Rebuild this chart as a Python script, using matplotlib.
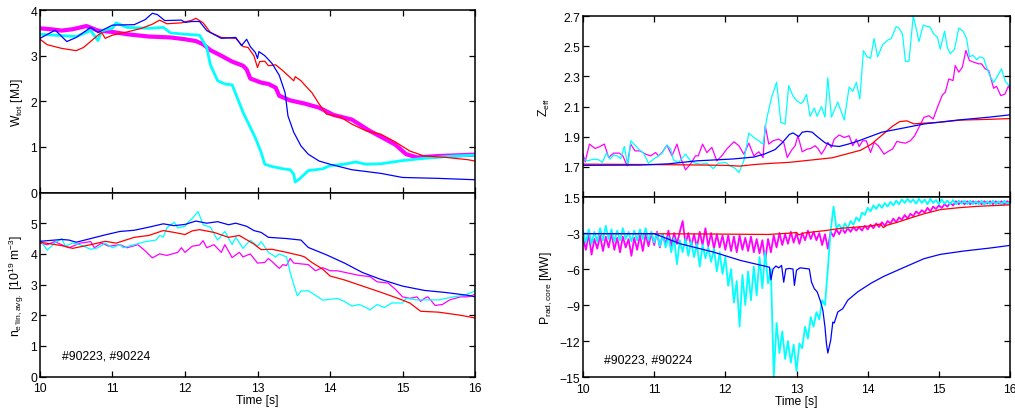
import numpy as np
import matplotlib
matplotlib.use("Agg")
import matplotlib.pyplot as plt

plt.rcParams['font.family'] = ['Liberation Sans', 'DejaVu Sans']
plt.rcParams['mathtext.fontset'] = 'custom'
plt.rcParams['mathtext.rm'] = 'Liberation Sans'
plt.rcParams['mathtext.it'] = 'Liberation Sans:italic'
plt.rcParams['mathtext.default'] = 'regular'

BLUE, RED, MAG, CYAN = '#0000ff', '#ff0000', '#ff00ff', '#00ffff'

# ---- W_tot [MJ] ----
wtot_blue_t = [10.0, 10.21, 10.37, 10.5, 10.7, 10.8, 11.0, 11.3, 11.45, 11.55, 11.62, 11.72, 11.95, 12.0,
               12.1, 12.2, 12.3, 12.5, 12.7, 12.78, 12.85, 12.9, 12.97, 13.0, 13.02, 13.1, 13.2, 13.3,
               13.38, 13.42, 13.5, 13.6, 13.7, 13.85, 14.0, 14.3, 14.7, 15.0, 15.5, 16.0]
wtot_blue = [3.38, 3.56, 3.31, 3.4, 3.62, 3.51, 3.67, 3.68, 3.79, 3.93, 3.9, 3.77, 3.78, 3.73,
             3.75, 3.75, 3.55, 3.38, 3.4, 3.22, 3.36, 3.2, 3.07, 2.94, 3.09, 3.0, 2.83, 2.57,
             2.19, 1.68, 1.32, 1.02, 0.84, 0.69, 0.62, 0.5, 0.42, 0.33, 0.31, 0.28]
wtot_red_t = [10.0, 10.1, 10.3, 10.5, 10.6, 10.8, 10.85, 10.9, 11.0, 11.2, 11.4, 11.55, 11.65, 11.75, 11.95,
              12.1, 12.15, 12.25, 12.35, 12.5, 12.7, 12.8, 12.87, 12.95, 13.0, 13.03, 13.1, 13.15, 13.25,
              13.35, 13.5, 13.52, 13.6, 13.65, 13.75, 13.85, 13.95, 14.15, 14.3, 14.5, 14.7, 14.9, 15.1,
              15.3, 15.6, 15.9, 16.0]
wtot_red = [3.36, 3.24, 3.16, 3.11, 3.18, 3.45, 3.51, 3.38, 3.45, 3.52, 3.6, 3.69, 3.78, 3.7, 3.72,
            3.78, 3.82, 3.72, 3.51, 3.4, 3.38, 3.2, 3.18, 3.0, 2.74, 2.87, 2.88, 2.78, 2.8,
            2.67, 2.45, 2.54, 2.45, 2.36, 2.19, 1.94, 1.72, 1.65, 1.5, 1.35, 1.28, 1.11, 0.91,
            0.8, 0.77, 0.72, 0.69]
wtot_mag_t = [10.0, 10.15, 10.3, 10.45, 10.64, 10.8, 11.0, 11.2, 11.5, 11.8, 12.0, 12.15, 12.25, 12.35,
              12.5, 12.65, 12.8, 12.85, 12.9, 13.05, 13.15, 13.25, 13.3, 13.45, 13.65, 13.85, 14.05,
              14.3, 14.45, 14.55, 14.75, 14.9, 15.05, 15.2, 15.5, 16.0]
wtot_mag = [3.6, 3.58, 3.55, 3.58, 3.65, 3.55, 3.52, 3.47, 3.42, 3.4, 3.36, 3.32, 3.25, 3.12,
            3.0, 2.87, 2.78, 2.7, 2.5, 2.41, 2.38, 2.3, 2.12, 2.02, 1.95, 1.86, 1.7,
            1.6, 1.45, 1.35, 1.18, 1.05, 0.84, 0.77, 0.8, 0.83]
wtot_cyan_t = [10.0, 10.2, 10.5, 10.7, 10.8, 10.85, 11.0, 11.05, 11.2, 11.5, 11.7, 11.8, 12.0, 12.2,
               12.3, 12.35, 12.45, 12.55, 12.65, 12.7, 12.8, 12.9, 12.97, 13.05, 13.1, 13.2, 13.35,
               13.45, 13.5, 13.52, 13.58, 13.7, 13.9, 14.0, 14.2, 14.35, 14.5, 14.7, 15.0, 15.3, 15.7, 16.0]
wtot_cyan = [3.47, 3.45, 3.42, 3.55, 3.33, 3.55, 3.6, 3.72, 3.62, 3.6, 3.62, 3.5, 3.47, 3.45,
             3.18, 2.8, 2.45, 2.38, 2.36, 2.16, 1.76, 1.43, 1.2, 0.88, 0.62, 0.57, 0.52,
             0.5, 0.4, 0.23, 0.3, 0.48, 0.52, 0.59, 0.62, 0.67, 0.62, 0.63, 0.7, 0.75, 0.8, 0.82]

# ---- n_e lin,avg [1e19 m^-3] ----
ne_blue_t = [10.0, 10.3, 10.4, 10.5, 10.7, 10.9, 11.1, 11.3, 11.5, 11.7, 11.85, 12.0, 12.15, 12.3, 12.45,
             12.6, 12.7, 12.85, 12.95, 13.05, 13.15, 13.4, 13.6, 13.7, 13.95, 14.2, 14.45, 14.7, 15.0,
             15.3, 15.6, 15.9, 16.0]
ne_blue = [4.41, 4.47, 4.45, 4.38, 4.5, 4.62, 4.73, 4.77, 4.87, 4.98, 4.92, 4.96, 5.07, 5.0, 5.05,
           4.95, 5.0, 4.9, 4.76, 4.7, 4.54, 4.5, 4.45, 4.21, 3.97, 3.7, 3.39, 3.17, 2.95,
           2.81, 2.74, 2.65, 2.6]
ne_red_t = [10.0, 10.3, 10.45, 10.7, 10.9, 11.05, 11.3, 11.5, 11.7, 11.85, 12.0, 12.1, 12.2, 12.4, 12.6,
            12.75, 12.95, 13.05, 13.2, 13.4, 13.6, 13.65, 13.75, 13.9, 14.0, 14.2, 14.45, 14.7, 14.95,
            15.1, 15.25, 15.5, 15.8, 16.0]
ne_red = [4.38, 4.27, 4.18, 4.3, 4.41, 4.35, 4.54, 4.6, 4.76, 4.7, 4.63, 4.75, 4.79, 4.7, 4.54,
          4.6, 4.32, 4.14, 4.15, 4.05, 3.94, 3.9, 3.72, 3.5, 3.28, 3.15, 2.95, 2.75, 2.54,
          2.4, 2.13, 2.1, 2.0, 1.91]
ne_mag_t = [10.0, 10.1, 10.2, 10.4, 10.55, 10.7, 10.75, 10.85, 10.95, 11.1, 11.2, 11.35, 11.45, 11.55,
            11.65, 11.75, 11.9, 11.95, 12.0, 12.1, 12.2, 12.25, 12.3, 12.4, 12.5, 12.55, 12.65, 12.75,
            12.8, 12.9, 12.95, 13.0, 13.1, 13.15, 13.2, 13.3, 13.35, 13.4, 13.45, 13.5, 13.7, 13.8,
            13.9, 14.0, 14.1, 14.3, 14.4, 14.55, 14.65, 14.8, 14.9, 15.0, 15.1, 15.2, 15.25, 15.3,
            15.35, 15.45, 15.55, 15.65, 15.8, 15.9, 16.0]
ne_mag = [4.35, 4.3, 4.4, 4.2, 4.35, 4.4, 4.2, 4.35, 4.25, 4.3, 4.2, 4.3, 4.1, 3.87,
          4.0, 3.95, 4.05, 4.2, 4.05, 4.25, 4.29, 4.43, 4.2, 4.3, 4.05, 4.3, 3.88, 4.05,
          3.9, 4.0, 3.85, 3.7, 3.72, 3.85, 3.75, 3.53, 3.65, 3.62, 3.85, 3.7, 3.65, 3.45,
          3.55, 3.45, 3.45, 3.35, 3.3, 3.26, 3.09, 3.05, 2.85, 2.6, 2.55, 2.6, 2.45, 2.55,
          2.6, 2.32, 2.35, 2.5, 2.6, 2.6, 2.68]
ne_cyan_t = [10.0, 10.1, 10.2, 10.3, 10.35, 10.45, 10.55, 10.7, 10.8, 10.9, 11.0, 11.1, 11.15, 11.3,
             11.45, 11.6, 11.65, 11.7, 11.75, 11.85, 11.9, 12.0, 12.05, 12.1, 12.18, 12.25, 12.35,
             12.45, 12.55, 12.65, 12.7, 12.8, 12.9, 13.0, 13.05, 13.15, 13.25, 13.3, 13.4, 13.45,
             13.5, 13.55, 13.6, 13.7, 13.8, 13.9, 14.1, 14.2, 14.3, 14.4, 14.5, 14.55, 14.65, 14.75,
             14.85, 15.0, 15.05, 15.2, 15.5, 15.7, 15.85, 16.0]
ne_cyan = [4.46, 4.12, 4.35, 4.5, 4.25, 4.35, 4.3, 4.15, 4.2, 4.35, 4.2, 4.3, 4.2, 4.3,
           4.4, 4.45, 4.6, 4.55, 4.85, 5.03, 4.85, 4.9, 5.05, 5.15, 5.38, 4.95, 4.87,
           4.45, 4.73, 4.3, 4.55, 4.18, 4.45, 4.25, 4.4, 4.05, 3.9, 4.0, 3.9, 3.4,
           3.0, 2.63, 2.79, 2.8, 2.65, 2.49, 2.55, 2.45, 2.3, 2.35, 2.25, 2.17, 2.35, 2.25,
           2.4, 2.4, 2.55, 2.5, 2.5, 2.6, 2.65, 2.79]

# ---- Z_eff ----
zeff_red_t = [10.0, 11.0, 11.5, 12.0, 12.2, 12.4, 12.6, 12.9, 13.2, 13.5, 13.7, 13.9, 14.05, 14.2,
              14.35, 14.45, 14.55, 14.65, 14.8, 15.0, 15.3, 15.7, 16.0]
zeff_red = [1.718, 1.715, 1.713, 1.71, 1.705, 1.715, 1.722, 1.73, 1.745, 1.76, 1.785, 1.81, 1.85, 1.91,
            1.97, 2.0, 2.005, 1.985, 1.99, 1.995, 2.01, 2.015, 2.02]
zeff_blue_t = [10.0, 10.8, 11.2, 11.6, 12.1, 12.4, 12.55, 12.7, 12.8, 12.9, 12.95, 13.0, 13.03, 13.08,
               13.15, 13.22, 13.28, 13.4, 13.5, 13.6, 13.72, 13.86, 14.0, 14.2, 14.42, 14.8, 15.26,
               15.72, 16.0]
zeff_blue = [1.71, 1.712, 1.72, 1.74, 1.752, 1.765, 1.785, 1.815, 1.86, 1.915, 1.925, 1.91, 1.9, 1.93,
             1.935, 1.93, 1.905, 1.86, 1.84, 1.835, 1.85, 1.87, 1.895, 1.93, 1.95, 1.985, 2.01,
             2.03, 2.045]
zeff_mag_t = [10.0, 10.03, 10.09, 10.17, 10.23, 10.3, 10.36, 10.43, 10.51, 10.56, 10.62, 10.67, 10.73,
              10.8, 10.88, 10.95, 11.02, 11.06, 11.11, 11.18, 11.25, 11.32, 11.38, 11.44, 11.51, 11.58,
              11.62, 11.68, 11.74, 11.81, 11.88, 11.95, 12.02, 12.12, 12.19, 12.26, 12.33, 12.4, 12.47,
              12.53, 12.56, 12.61, 12.67, 12.75, 12.82, 12.87, 12.93, 12.98, 13.02, 13.08, 13.15, 13.2,
              13.26, 13.3, 13.35, 13.4, 13.44, 13.49, 13.53, 13.6, 13.67, 13.74, 13.79, 13.84, 13.88,
              13.93, 13.98, 14.04, 14.09, 14.15, 14.23, 14.3, 14.35, 14.41, 14.47, 14.53, 14.6, 14.66,
              14.72, 14.79, 14.86, 14.92, 14.98, 15.05, 15.09, 15.14, 15.2, 15.23, 15.28, 15.33, 15.38,
              15.43, 15.49, 15.56, 15.6, 15.65, 15.7, 15.77, 15.81, 15.87, 15.93, 15.98, 16.0]
zeff_mag = [1.784, 1.733, 1.851, 1.822, 1.833, 1.851, 1.762, 1.791, 1.791, 1.773, 1.707, 1.851, 1.806,
            1.806, 1.784, 1.773, 1.795, 1.773, 1.795, 1.844, 1.773, 1.851, 1.751, 1.68, 1.718, 1.773,
            1.773, 1.851, 1.795, 1.829, 1.74, 1.773, 1.818, 1.866, 1.84, 1.784, 1.857, 1.773, 1.8,
            1.762, 1.973, 1.851, 1.873, 1.884, 1.862, 1.762, 1.81, 1.84, 1.906, 1.8, 1.818, 1.822,
            1.84, 1.822, 1.784, 1.822, 1.862, 1.829, 1.884, 1.911, 1.895, 1.906, 1.84, 1.884, 1.835,
            1.873, 1.873, 1.795, 1.862, 1.84, 1.784, 1.806, 1.818, 1.869, 1.862, 1.857, 1.873, 1.906,
            1.962, 2.028, 2.039, 2.017, 2.095, 2.177, 2.194, 2.283, 2.272, 2.372, 2.328, 2.361, 2.472,
            2.405, 2.394, 2.383, 2.383, 2.35, 2.339, 2.221, 2.234, 2.172, 2.183, 2.239, 2.206]
zeff_cyan_t = [10.0, 10.06, 10.15, 10.22, 10.27, 10.33, 10.38, 10.43, 10.48, 10.53, 10.58, 10.63, 10.67,
               10.73, 10.78, 10.85, 10.92, 10.99, 11.06, 11.11, 11.18, 11.23, 11.27, 11.34, 11.44, 11.51,
               11.58, 11.65, 11.74, 11.83, 11.9, 12.0, 12.07, 12.14, 12.19, 12.26, 12.33, 12.4, 12.47,
               12.53, 12.58, 12.65, 12.72, 12.78, 12.84, 12.89, 12.95, 13.0, 13.06, 13.09, 13.14, 13.19,
               13.25, 13.29, 13.35, 13.4, 13.44, 13.49, 13.58, 13.67, 13.74, 13.79, 13.84, 13.89, 13.94,
               13.99, 14.04, 14.09, 14.14, 14.21, 14.28, 14.33, 14.4, 14.44, 14.49, 14.53, 14.58, 14.64,
               14.69, 14.72, 14.78, 14.84, 14.87, 14.93, 14.98, 15.02, 15.08, 15.12, 15.16, 15.22, 15.28,
               15.34, 15.39, 15.43, 15.48, 15.53, 15.58, 15.63, 15.67, 15.72, 15.77, 15.81, 15.88, 15.93,
               16.0]
zeff_cyan = [1.751, 1.74, 1.751, 1.747, 1.729, 1.791, 1.751, 1.778, 1.773, 1.755, 1.835, 1.707, 1.873,
             1.844, 1.818, 1.791, 1.724, 1.751, 1.773, 1.791, 1.844, 1.818, 1.747, 1.729, 1.784, 1.74,
             1.724, 1.718, 1.724, 1.689, 1.724, 1.729, 1.707, 1.689, 1.662, 1.74, 1.924, 1.895, 1.873,
             1.851, 2.017, 2.161, 2.261, 1.995, 1.984, 2.239, 2.17, 2.14, 2.12, 2.13, 2.18, 2.035,
             2.09, 2.035, 2.1, 2.03, 2.29, 2.03, 2.13, 2.01, 2.23, 2.2, 2.26, 2.15, 2.47,
             2.43, 2.42, 2.55, 2.43, 2.51, 2.54, 2.55, 2.63, 2.62, 2.58, 2.4, 2.4, 2.7,
             2.6, 2.53, 2.64, 2.63, 2.63, 2.58, 2.56, 2.48, 2.6, 2.49, 2.45, 2.48, 2.62,
             2.6, 2.55, 2.43, 2.44, 2.41, 2.43, 2.42, 2.36, 2.3, 2.26, 2.29, 2.35, 2.27,
             2.23]

# ---- P_rad,core [MW] ----
prad_blue_t = [10.0, 11.0, 11.37, 11.83, 12.21, 12.51, 12.62, 12.64, 12.67, 12.71, 12.75, 12.79, 12.82,
               12.85, 12.9, 12.95, 12.97, 13.0, 13.05, 13.12, 13.18, 13.21, 13.25, 13.29, 13.34, 13.37,
               13.4, 13.42, 13.44, 13.48, 13.51, 13.53, 13.58, 13.65, 13.72, 13.86, 14.05, 14.23, 14.47,
               14.79, 15.02, 15.35, 15.72, 16.0]
prad_blue = [-3.05, -3.05, -3.9, -4.58, -5.28, -5.7, -5.85, -6.9, -6.0, -5.75, -5.9, -5.7, -7.1,
             -6.0, -5.95, -6.0, -7.36, -6.1, -5.9, -5.95, -6.0, -7.08, -7.64, -7.9, -8.75, -9.44,
             -10.83, -12.2, -13.0, -11.94, -10.42, -10.5, -9.58, -9.3, -8.6, -7.9, -7.17, -6.6, -5.97,
             -5.14, -4.78, -4.5, -4.25, -4.03]
prad_red_t = [10.0, 11.5, 12.2, 12.6, 12.93, 13.0, 13.03, 13.1, 13.4, 13.63, 13.86, 14.05, 14.18, 14.22,
              14.27, 14.42, 14.6, 14.79, 15.02, 15.26, 15.53, 16.0]
prad_red = [-3.05, -3.07, -3.1, -3.12, -3.0, -2.95, -3.15, -3.0, -2.8, -2.6, -2.5, -2.4, -2.25, -2.55,
            -2.35, -2.1, -1.75, -1.4, -1.05, -0.9, -0.78, -0.65]
# sampled every 40 ms from 10.0 s to 16.0 s
prad_cyan = [-2.8, -3.8, -2.7, -3.9, -2.9, -3.7, -2.6, -3.6, -2.4, -3.5,
             -2.7, -3.7, -2.8, -3.6, -2.6, -3.5, -2.9, -3.7, -2.8, -3.6,
             -2.7, -3.5, -2.6, -3.6, -2.9, -3.8, -3.0, -4.1, -3.1, -4.2,
             -3.3, -4.6, -3.4, -5.6, -3.6, -4.6, -3.5, -4.9, -3.7, -5.0,
             -3.9, -5.8, -4.0, -5.1, -4.2, -5.4, -4.3, -6.2, -4.6, -6.4,
             -5.0, -7.4, -6.0, -8.8, -7.0, -10.8, -6.5, -9.0, -6.2, -8.6,
             -5.8, -8.2, -5.0, -7.6, -4.6, -7.2, -6.0, -15.0, -10.5, -13.0,
             -11.2, -13.5, -12.0, -13.8, -12.3, -14.5, -12.2, -12.6, -10.8, -11.8,
             -10.0, -10.8, -9.6, -10.2, -8.6, -9.0, -6.0, -2.8, -0.8, -2.6,
             -2.3, -2.7, -2.2, -2.6, -2.0, -2.3, -1.7, -2.0, -1.3, -1.5,
             -0.9, -1.2, -0.7, -1.0, -0.6, -0.9, -0.5, -0.8, -0.4, -0.7,
             -0.3, -0.6, -0.2, -0.5, -0.15, -0.45, -0.2, -0.55, -0.15, -0.5,
             -0.2, -0.6, -0.15, -0.5, -0.25, -0.6, -0.2, -0.55, -0.3, -0.6,
             -0.25, -0.6, -0.3, -0.55, -0.3, -0.6, -0.3, -0.6, -0.35, -0.6,
             -0.3, -0.65, -0.35, -0.6, -0.3, -0.6, -0.35, -0.65, -0.3, -0.6,
             -0.4]
prad_mag = [-3.4, -4.4, -3.1, -4.8, -3.5, -4.3, -3.2, -4.5, -3.3, -4.2,
            -3.0, -4.4, -3.4, -4.6, -3.3, -4.2, -3.5, -4.9, -3.4, -4.4,
            -3.2, -4.5, -3.1, -4.1, -3.0, -4.0, -2.9, -4.2, -3.1, -4.0,
            -2.8, -4.1, -3.0, -3.9, -2.9, -2.0, -3.9, -3.0, -4.1, -3.1,
            -4.2, -2.9, -4.0, -2.6, -4.1, -3.0, -4.3, -3.1, -4.2, -3.2,
            -4.4, -3.2, -4.5, -3.3, -4.6, -3.2, -4.4, -3.4, -4.5, -3.3,
            -4.6, -3.5, -4.7, -3.6, -5.3, -3.5, -4.6, -3.2, -4.2, -3.0,
            -4.0, -3.1, -3.9, -2.9, -3.8, -3.0, -3.9, -3.0, -3.6, -2.8,
            -3.5, -2.9, -3.6, -3.0, -4.0, -3.1, -4.3, -2.9, -3.3, -2.7,
            -3.1, -2.6, -3.0, -2.6, -2.9, -2.5, -2.8, -2.5, -2.8, -2.4,
            -2.7, -2.3, -2.6, -2.2, -2.5, -2.1, -2.4, -2.0, -2.2, -1.8,
            -2.1, -1.7, -1.9, -1.5, -1.8, -1.4, -1.6, -1.2, -1.4, -1.1,
            -1.3, -0.9, -1.2, -0.8, -1.0, -0.7, -0.9, -0.6, -0.8, -0.5,
            -0.7, -0.35, -0.6, -0.35, -0.6, -0.35, -0.6, -0.35, -0.55, -0.35,
            -0.6, -0.35, -0.55, -0.35, -0.6, -0.35, -0.55, -0.35, -0.6, -0.35,
            -0.5]
prad_t = np.linspace(10.0, 16.0, len(prad_cyan))

shots = "#90223, #90224"
xticks = [10, 11, 12, 13, 14, 15, 16]

fig = plt.figure(figsize=(10.15, 4.1), dpi=100)
ax1 = fig.add_axes([0.0394, 0.528, 0.4286, 0.445])
ax2 = fig.add_axes([0.0394, 0.079, 0.4286, 0.449])
ax3 = fig.add_axes([0.5744, 0.517, 0.4207, 0.4415])
ax4 = fig.add_axes([0.5744, 0.078, 0.4207, 0.439])

lw = 0.9
ax1.plot(wtot_mag_t, wtot_mag, color=MAG, lw=3.0)
ax1.plot(wtot_cyan_t, wtot_cyan, color=CYAN, lw=2.0)
ax1.plot(wtot_red_t, wtot_red, color=RED, lw=lw)
ax1.plot(wtot_blue_t, wtot_blue, color=BLUE, lw=lw)

ax2.plot(ne_mag_t, ne_mag, color=MAG, lw=lw)
ax2.plot(ne_cyan_t, ne_cyan, color=CYAN, lw=lw)
ax2.plot(ne_red_t, ne_red, color=RED, lw=lw)
ax2.plot(ne_blue_t, ne_blue, color=BLUE, lw=lw)

ax3.plot(zeff_mag_t, zeff_mag, color=MAG, lw=lw)
ax3.plot(zeff_cyan_t, zeff_cyan, color=CYAN, lw=lw)
ax3.plot(zeff_red_t, zeff_red, color=RED, lw=lw)
ax3.plot(zeff_blue_t, zeff_blue, color=BLUE, lw=lw)

ax4.plot(prad_t, prad_mag, color=MAG, lw=1.3)
ax4.plot(prad_t, prad_cyan, color=CYAN, lw=1.3)
ax4.plot(prad_red_t, prad_red, color=RED, lw=lw)
ax4.plot(prad_blue_t, prad_blue, color=BLUE, lw=lw)

fs = 8.7
for ax in (ax1, ax2, ax3, ax4):
    ax.set_xlim(10, 16)
    ax.set_xticks(xticks)
    ax.tick_params(direction='in', top=True, right=True, length=4, width=0.9, labelsize=fs, pad=2)
    ax.tick_params(axis='x', pad=4)
    for s in ax.spines.values():
        s.set_linewidth(1.1)

ax1.set_ylim(0, 4)
ax1.set_yticks([0, 1, 2, 3, 4])
ax1.tick_params(labelbottom=False)
ax1.set_ylabel("W$_{tot}$ [MJ]", fontsize=fs, labelpad=4)

ax2.set_ylim(0, 6)
ax2.set_yticks([0, 1, 2, 3, 4, 5])
ax2.set_ylabel("n$_{e}$$_{\u2019lin,avg.}$ [10$^{19}$ m$^{-3}$]", fontsize=fs, labelpad=3)
ax2.set_xlabel("Time [s]", fontsize=fs, labelpad=0)
ax2.text(0.05, 0.117, shots, transform=ax2.transAxes, fontsize=fs, va='center')

ax3.set_ylim(1.5, 2.7)
ax3.set_yticks([1.5, 1.7, 1.9, 2.1, 2.3, 2.5, 2.7])
ax3.set_yticklabels(["1.5", "1.7", "1.9", "2.1", "2.3", "2.5", "2.7"])
ax3.tick_params(labelbottom=False)
ax3.set_ylabel("Z$_{eff}$", fontsize=fs, labelpad=8)

ax4.set_ylim(-15, 0)
ax4.set_yticks([-15, -12, -9, -6, -3])
ax4.set_yticklabels(["\u221215", "\u221212", "\u22129", "\u22126", "\u22123"])
ax4.set_ylabel("P$_{rad,core}$ [MW]", fontsize=fs, labelpad=4)
ax4.set_xlabel("Time [s]", fontsize=fs, labelpad=0)
ax4.text(0.05, 0.096, shots, transform=ax4.transAxes, fontsize=fs, va='center')

fig.savefig("out.png", dpi=100)
